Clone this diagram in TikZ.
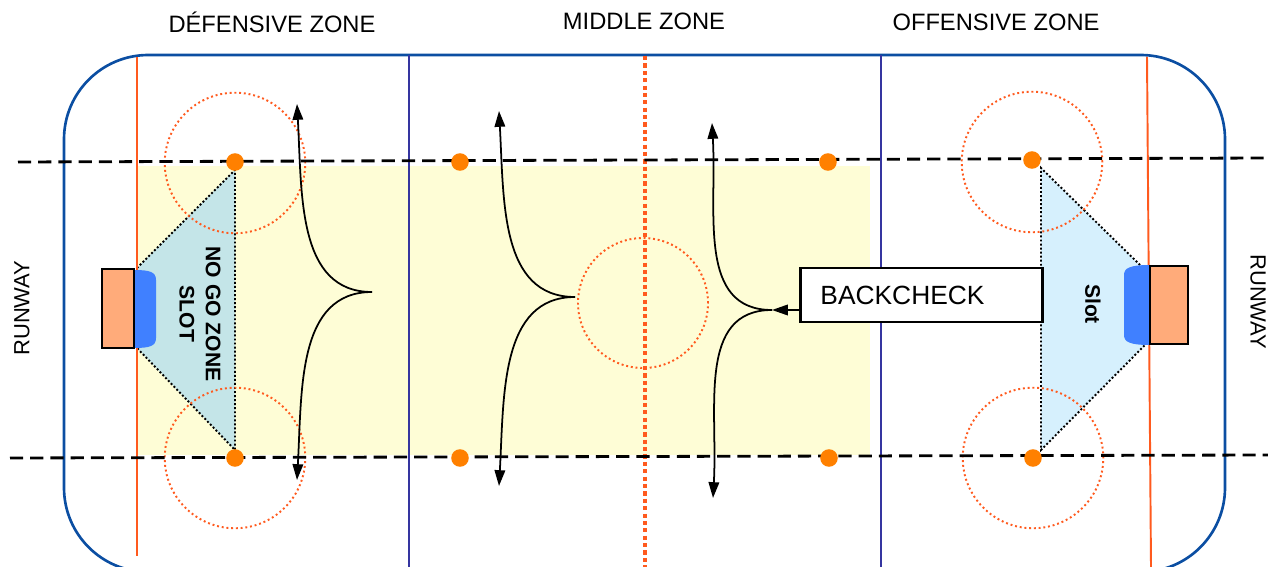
\documentclass[tikz,border=0pt]{standalone}
\usepackage{fontspec}
\setmainfont{Liberation Sans}
\usetikzlibrary{arrows.meta,calc,positioning}

\definecolor{rinkblue}{HTML}{0B4EA2}
\definecolor{goalred}{HTML}{FF5A1E}
\definecolor{lineblue}{HTML}{3535A0}
\definecolor{spotorange}{HTML}{FF8000}
\definecolor{zoneyellow}{HTML}{FEFDD6}
\definecolor{slotteal}{HTML}{C4E5E8}
\definecolor{slotblue}{HTML}{D6F0FD}
\definecolor{creaseblue}{HTML}{4080FF}
\definecolor{netfill}{HTML}{FFAB7A}

\begin{document}
\begin{tikzpicture}[x=0.02cm,y=-0.02cm,
  zonelabel/.style={font=\fontsize{13.5}{16}\selectfont},
  slotlabel/.style={font=\bfseries\fontsize{12}{15}\selectfont,align=center,rotate=-90},
  faceoff/.style={draw=goalred,line width=1.1pt,dash pattern=on 1.1pt off 1.6pt},
  fork/.style={line width=1pt,-{Triangle[length=9pt,width=6pt]}},
  slotedge/.style={line width=1.1pt,dash pattern=on 1.1pt off 1.2pt},
  net/.style={fill=netfill,draw=black,line width=1.3pt},
  hashline/.style={line width=1.6pt,dash pattern=on 7.5pt off 4pt}]
  \clip (0,0) rectangle (1268,567);

  % zone and slots
  \fill[zoneyellow] (137,166) rectangle (870,455);
  \fill[slotteal] (137,268) -- (235,170) -- (235,450) -- (137,348) -- cycle;
  \fill[slotblue] (1140,265) -- (1041,168) -- (1041,450) -- (1145,345) -- (1150,345) -- (1150,265) -- cycle;
  \draw[slotedge] (137,268) -- (235,170) -- (235,450) -- (137,348);
  \draw[slotedge] (1140,265) -- (1041,168) -- (1041,450) -- (1145,345);

  % rink and lines
  \draw[rinkblue,line width=1.5pt,rounded corners=48pt] (64,55) rectangle (1225,572);
  \draw[goalred,line width=1.1pt] (137,57) -- (137,556);
  \draw[goalred,line width=1.1pt] (1147,57) -- (1151,567);
  \draw[lineblue,line width=0.7pt] (409,55) -- (409,567);
  \draw[lineblue,line width=0.7pt] (881,55) -- (881,567);
  \draw[faceoff] (643,303) circle (37pt);
  \draw[goalred,line width=2pt,dash pattern=on 2.4pt off 1.8pt] (645,56) -- (645,567);
  \foreach \x/\y in {235/163,235/458,1032/162,1033/458}
    \draw[faceoff] (\x,\y) circle (40pt);
  \draw[hashline] (18,162) -- (1268,158);
  \draw[hashline] (10,458) -- (1268,455);
  \foreach \x/\y in {235/162,235/458,460/162,460/458,828/162,829/458,1032/160,1033/458}
    \fill[spotorange] (\x,\y) circle (5pt);

  % goals
  \fill[creaseblue] (134,270) .. controls (150,270) and (156,272) .. (156,280) -- (156,338)
    .. controls (156,346) and (150,348) .. (134,348) -- cycle;
  \draw[net] (102,269) rectangle (134,348);
  \fill[creaseblue] (1150,265) .. controls (1130,265) and (1124,268) .. (1124,275) -- (1124,335)
    .. controls (1124,342) and (1130,345) .. (1150,345) -- cycle;
  \draw[net] (1150,266) rectangle (1188,344);

  % labels
  \node[zonelabel] (defzone) at (272,22) {DÉFENSIVE ZONE};
  \node[zonelabel] (midzone) at (644,21) {MIDDLE ZONE};
  \node[zonelabel] (offzone) at (996,22) {OFFENSIVE ZONE};
  \node[font=\fontsize{12.5}{15}\selectfont,rotate=90] (runwayL) at (22,308) {RUNWAY};
  \node[font=\fontsize{12.5}{15}\selectfont,rotate=-90] (runwayR) at (1258,302) {RUNWAY};
  \node[slotlabel] (nogo) at (200,314) {NO GO ZONE\\SLOT};
  \node[slotlabel] (slot) at (1093,304) {Slot};

  % forks
  \coordinate (c1) at (372,292);
  \coordinate (t1) at (297,104);
  \coordinate (b1) at (297,480);
  \coordinate (c2) at (575,297);
  \coordinate (t2) at (499,111);
  \coordinate (b2) at (499,486);
  \coordinate (c3) at (772,310);
  \coordinate (t3) at (712,123);
  \coordinate (b3) at (713,498);
  \foreach \i in {1,2,3} {
    \draw[fork] (c\i) .. controls +(-75,0) and +(5,90) .. (t\i);
    \draw[fork] (c\i) .. controls +(-75,0) and +(5,-90) .. (b\i);
  }
  \node[draw,fill=white,line width=1.3pt,font=\fontsize{15}{18}\selectfont,
    inner xsep=11.3pt,text width=115pt,align=left,minimum height=31pt]
    (backcheck) at (921.5,295) {BACKCHECK};
  \draw[fork] (backcheck.west |- c3) -- (c3);
\end{tikzpicture}
\end{document}
